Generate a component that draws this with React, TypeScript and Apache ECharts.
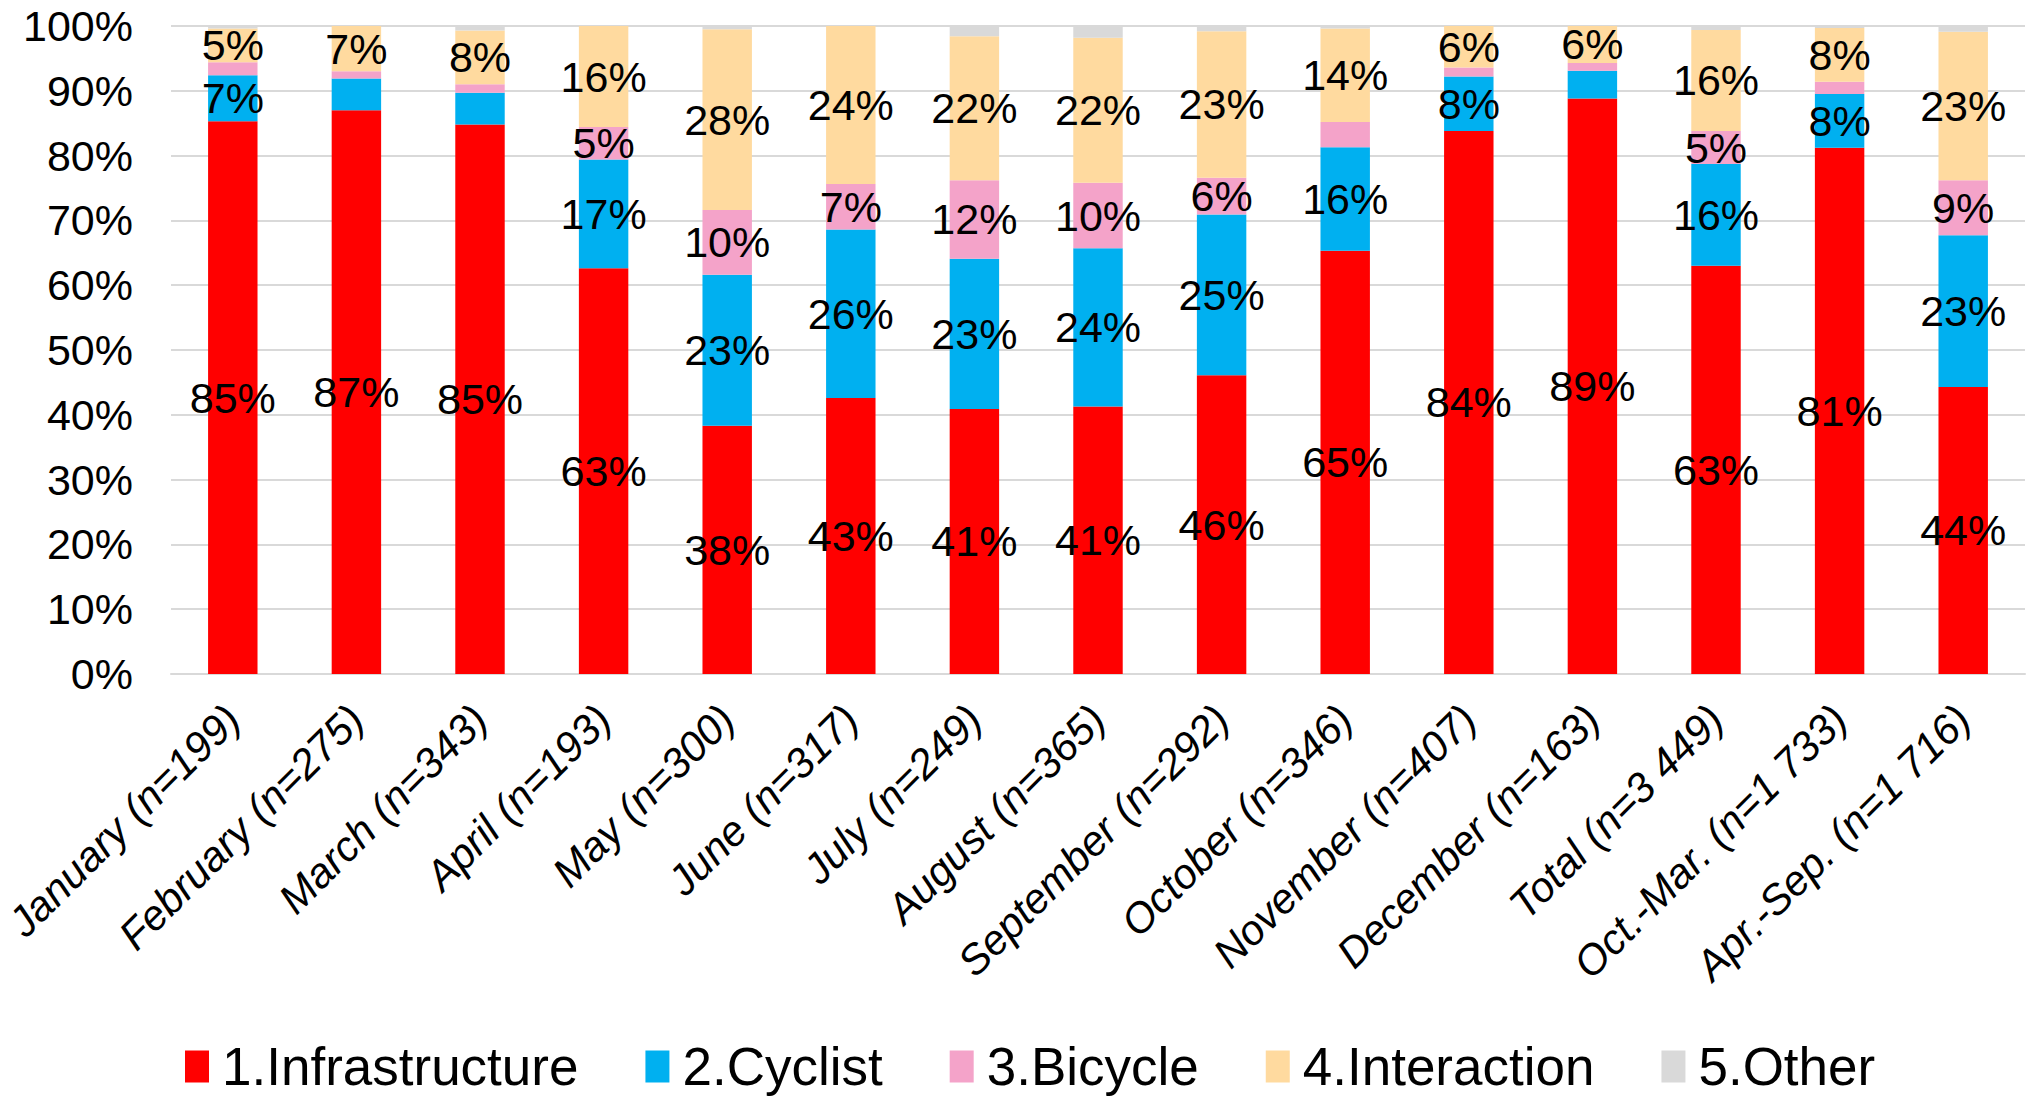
import React, { useEffect, useRef } from "react";
import * as echarts from "echarts";

const categories = [
  "January (n=199)",
  "February (n=275)",
  "March (n=343)",
  "April (n=193)",
  "May (n=300)",
  "June (n=317)",
  "July (n=249)",
  "August (n=365)",
  "September (n=292)",
  "October (n=346)",
  "November (n=407)",
  "December (n=163)",
  "Total (n=3 449)",
  "Oct.-Mar. (n=1 733)",
  "Apr.-Sep. (n=1 716)",
];

const seriesNames = ["1.Infrastructure", "2.Cyclist", "3.Bicycle", "4.Interaction", "5.Other"];

const infrastructure = [85.3, 87.0, 84.8, 62.6, 38.3, 42.6, 40.9, 41.3, 46.1, 65.3, 83.8, 88.8, 63.0, 81.2, 44.3];
const cyclist = [7.1, 4.9, 4.9, 16.8, 23.3, 26.0, 23.2, 24.4, 24.8, 16.0, 8.4, 4.3, 15.7, 8.3, 23.4];
const bicycle = [2.0, 1.1, 1.3, 5.0, 10.0, 7.0, 12.1, 10.1, 5.7, 3.9, 1.4, 1.2, 5.1, 1.9, 8.5];
const interaction = [5.2, 7.0, 8.3, 15.6, 27.9, 24.4, 22.2, 22.4, 22.6, 14.4, 6.4, 5.7, 15.6, 8.3, 22.9];
const other = [0.4, 0.0, 0.7, 0.0, 0.5, 0.0, 1.6, 1.8, 0.8, 0.4, 0.0, 0.0, 0.6, 0.3, 0.9];

const yTicks = [0, 10, 20, 30, 40, 50, 60, 70, 80, 90, 100];

const colors = ["#FF0000", "#00B0F0", "#F4A3C9", "#FFDA9F", "#D9D9D9"];
const FONT = "'Liberation Sans', Arial, sans-serif";

export default function App() {
  const ref = useRef<HTMLDivElement>(null);
  useEffect(() => {
    if (!ref.current) return;
    const chart = echarts.init(ref.current, undefined, { renderer: "svg" });
    const values = [infrastructure, cyclist, bicycle, interaction, other];
    chart.setOption({
      animation: false,
      textStyle: { fontFamily: FONT },
      grid: {
        left: 171,
        right: 3,
        top: 26,
        bottom: 424,
        containLabel: false,
        outerBoundsMode: "none",
      },
      legend: {
        data: seriesNames,
        left: 180,
        top: 1035,
        itemWidth: 24,
        itemHeight: 32,
        itemGap: 67,
        icon: "rect",
        textStyle: { fontFamily: FONT, fontSize: 53, color: "#000", padding: [0, 0, 0, 8] },
      },
      xAxis: {
        type: "category",
        data: categories,
        axisLine: { lineStyle: { color: "#D9D9D9", width: 2 } },
        axisTick: { show: false },
        axisLabel: {
          rotate: 45,
          interval: 0,
          margin: 38,
          fontSize: 42,
          fontStyle: "italic",
          color: "#000",
          fontFamily: FONT,
        },
      },
      yAxis: {
        type: "value",
        min: yTicks[0],
        max: yTicks[yTicks.length - 1],
        interval: 10,
        axisLine: { show: false },
        axisTick: { show: false },
        splitLine: { lineStyle: { color: "#D9D9D9", width: 2 } },
        axisLabel: {
          formatter: "{value}%",
          fontSize: 43,
          color: "#000",
          margin: 38,
          fontFamily: FONT,
        },
      },
      series: seriesNames.map((name, i) => ({
        name,
        type: "bar",
        stack: "total",
        barWidth: "40%",
        itemStyle: { color: colors[i] },
        label: {
          show: true,
          position: "inside",
          color: "#000",
          fontSize: 43,
          fontFamily: FONT,
          formatter: (p: any) => (p.value >= 5 ? Math.round(p.value) + "%" : ""),
        },
        data: values[i],
      })),
    });
    return () => chart.dispose();
  }, []);
  return (
    <div
      ref={ref}
      style={{ position: "fixed", left: 0, top: 0, width: 2028, height: 1098, background: "#fff" }}
    />
  );
}
